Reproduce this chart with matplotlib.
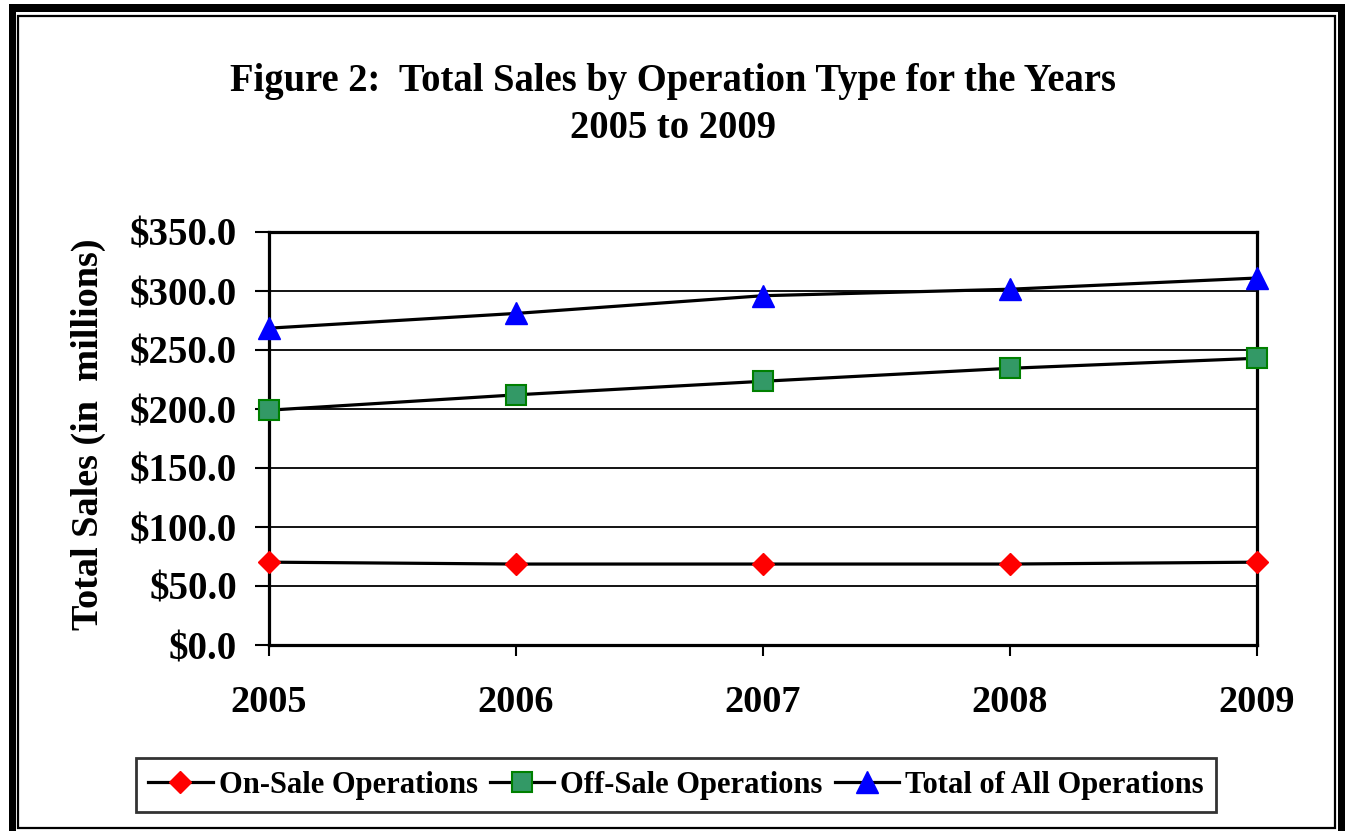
import matplotlib
matplotlib.use("Agg")
import matplotlib.pyplot as plt
from matplotlib.patches import Rectangle

plt.rcParams['font.family'] = ['Liberation Serif', 'DejaVu Serif']
plt.rcParams['font.weight'] = 'bold'

years = ["2005", "2006", "2007", "2008", "2009"]
on_sale = [70.2, 68.6, 68.6, 68.6, 70.2]
off_sale = [199.0, 212.0, 223.5, 234.5, 243.0]
total = [268.5, 281.0, 296.0, 301.5, 311.0]
yticks = [0, 50, 100, 150, 200, 250, 300, 350]

W, H = 1345, 831
fig = plt.figure(figsize=(W / 100, H / 100), dpi=100)
ax = fig.add_axes([269 / W, 1 - 645 / H, (1257 - 269) / W, (645 - 232) / H])

x = list(range(len(years)))
ax.plot(x, on_sale, color="black", lw=2.3, marker="D", ms=11, clip_on=False,
        mfc="#ff0000", mec="#ff0000", label="On-Sale Operations", zorder=4)
ax.plot(x, off_sale, color="black", lw=2.3, marker="s", ms=14, clip_on=False,
        mfc="#339966", mec="#008000", mew=1.5, label="Off-Sale Operations", zorder=4)
ax.plot(x, total, color="black", lw=2.3, marker="^", ms=16, clip_on=False,
        mfc="#0000ff", mec="#0000ff", label="Total of All Operations", zorder=4)

ax.set_xlim(0, len(years) - 1)
ax.set_ylim(0, 350)
ax.set_xticks(x)
ax.set_xticklabels(years)
ax.set_yticks(yticks)
ax.set_yticklabels(["$%.1f" % v for v in yticks])
ax.yaxis.grid(True, color="black", lw=1.3)
ax.set_axisbelow(True)
for s in ax.spines.values():
    s.set_linewidth(2.3)
ax.tick_params(axis="x", direction="out", length=8, width=1.5, pad=21, labelsize=27.5)
ax.tick_params(axis="y", direction="out", length=10, width=1.5, pad=13, labelsize=28)
for lab in ax.get_xticklabels() + ax.get_yticklabels():
    lab.set_fontweight("bold")

fig.text(88 / W, 1 - 434 / H, "Total Sales (in  millions)", rotation=90,
         ha="center", va="center", fontsize=27.5, fontweight="bold")
fig.text(0.5, 1 - 81 / H, "Figure 2:  Total Sales by Operation Type for the Years",
         ha="center", va="center", fontsize=27.8, fontweight="bold")
fig.text(0.5, 1 - 129 / H, "2005 to 2009",
         ha="center", va="center", fontsize=27.8, fontweight="bold")

leg = fig.legend(loc="center", bbox_to_anchor=(676 / W, 1 - 785 / H), ncol=3,
                 fontsize=22, frameon=True, fancybox=False, handlelength=2.1,
                 handletextpad=0.2, columnspacing=0.4, borderpad=0.4)
leg.get_frame().set_edgecolor("black")
leg.get_frame().set_linewidth(2)
for t in leg.get_texts():
    t.set_fontweight("bold")

# double border around the figure
def px_rect(x0, y0, x1, y1, **kw):
    fig.add_artist(Rectangle((x0 / W, 1 - y1 / H), (x1 - x0) / W, (y1 - y0) / H,
                             transform=fig.transFigure, **kw))

px_rect(9, 4, 16, 831, color="black", lw=0)
px_rect(9, 4, 1345, 12, color="black", lw=0)
px_rect(1338, 4, 1345, 831, color="black", lw=0)
px_rect(18, 16, 1335, 828, fill=False, edgecolor="black", lw=1.6)

fig.savefig("out.png", dpi=100)
